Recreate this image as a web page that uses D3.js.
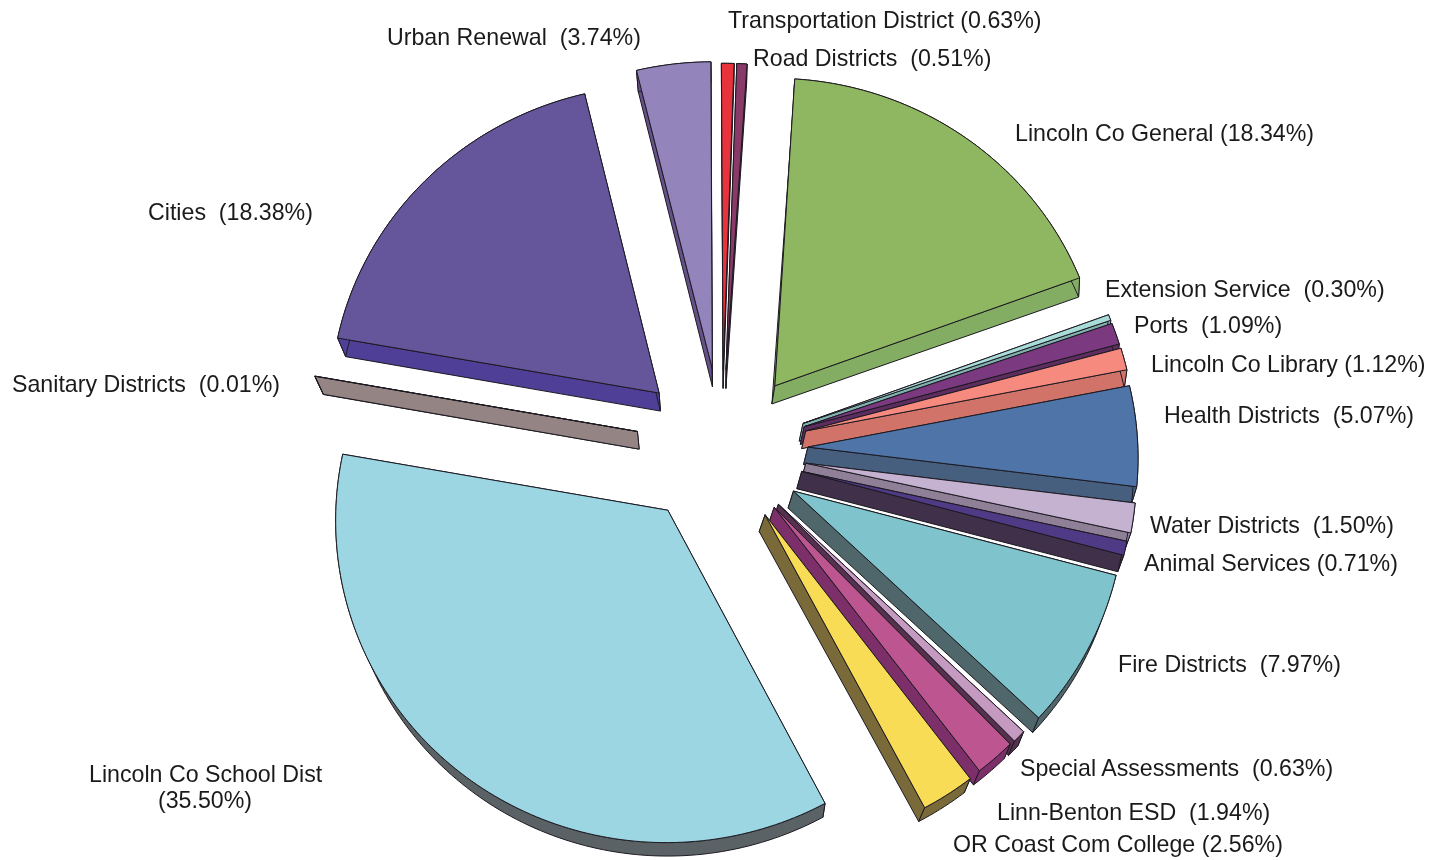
<!DOCTYPE html>
<html><head><meta charset="utf-8">
<script src="https://cdn.jsdelivr.net/npm/d3@7/dist/d3.min.js"></script>
<style>html,body{margin:0;padding:0;background:#fff}svg{display:block}text{font-family:"Liberation Sans",Arial,sans-serif;white-space:pre;fill:#1a1a1a}</style>
</head><body><svg id="c" width="1434" height="860"></svg>
<script>
// Data, clockwise from the top of the pie
const categories = ["Lincoln Co General","Extension Service","Ports","Lincoln Co Library","Health Districts","Water Districts","Animal Services","Fire Districts","Special Assessments","Linn-Benton ESD","OR Coast Com College","Lincoln Co School Dist","Sanitary Districts","Cities","Urban Renewal","Transportation District","Road Districts"];
const shares = [18.34,0.30,1.09,1.12,5.07,1.50,0.71,7.97,0.63,1.94,2.56,35.50,0.01,18.38,3.74,0.63,0.51];
const labels = ["Lincoln Co General (18.34%)","Extension Service  (0.30%)","Ports  (1.09%)","Lincoln Co Library (1.12%)","Health Districts  (5.07%)","Water Districts  (1.50%)","Animal Services (0.71%)","Fire Districts  (7.97%)","Special Assessments  (0.63%)","Linn-Benton ESD  (1.94%)","OR Coast Com College (2.56%)","Lincoln Co School Dist","Sanitary Districts  (0.01%)","Cities  (18.38%)","Urban Renewal  (3.74%)","Transportation District (0.63%)","Road Districts  (0.51%)"];
// Styles
const topColors = ["#8fb660","#a8dcd8","#7b3a80","#f78a7e","#4e74a8","#c4b2d0","#4f3a86","#7fc4cc","#c59ac0","#bd5590","#f8dc55","#9cd6e2","#948484","#65569c","#9484bc","#e8323c","#8a3a68"];
const sideColors = ["#82ad62","#7fb0ae","#5e2d60","#d2736a","#465f7e","#8f8098","#41304a","#4f666a","#55304f","#7d2f6a","#7a6a3a","#5a6266","#948484","#4f3f96","#65508a","#901c28","#5a2040"];
// Layout
const labelX = [1015,1105,1134,1151,1164,1150,1144,1118,1020,997,953,89,12,148,387,728,753];
const labelY = [141,297,333,372,423,533,571,672,776,820,852,782,392,220,45,28,66];
const explodePx = [82,82,82,82,86,86,84,84,82,80,80,88,86,88,80,80,80];
const nudgeX = [4,4,4,4,0,-1,-2,-2,-2,0,0,-2,0,1,0,0,0];
const nudgeY = [4,5,5,4,5,4,7,6,3,3,4,-4,1,6,0,2,2];
const cx=722, cy=445, rx=330, ry=319.4, persp=0.0275, rot=3.8*Math.PI/180;
const vanish=[722,2160], kx=1/48, ky=1/98;

const svg=d3.select("#c").append("g").style("filter","blur(0.4px)");
const x=d3.scaleLinear().domain([-1,1]).range([cx-rx,cx+rx]);
const y=d3.scaleLinear().domain([-1,1]).range([cy-ry,cy+ry]);
const arcs=d3.pie().sort(null).startAngle(rot).endAngle(rot+2*Math.PI)(shares);
const line=d3.line();
const rightLean=d3.scaleLinear().domain([300,520]).range([-1,-6]).clamp(true);
const floorFor=right=>p=>[p[0]+(right?rightLean(p[1]):(vanish[0]-p[0])*kx),p[1]+(vanish[1]-p[1])*ky];

const slices=arcs.map((a,i)=>{
  const mid=(a.startAngle+a.endAngle)/2, e=explodePx[i]/rx;
  const ox=Math.sin(mid)*e, oy=-Math.cos(mid)*e;
  const pt=(r,t)=>{
    const u=ox+r*Math.sin(t), v=oy-r*Math.cos(t), s=1/(1-persp*v);
    return [x(u*s)+nudgeX[i],y(v*s)+nudgeY[i]];
  };
  const n=Math.max(2,Math.ceil((a.endAngle-a.startAngle)/0.02));
  const rim=d3.range(n+1).map(j=>pt(1,a.startAngle+(a.endAngle-a.startAngle)*j/n));
  return {i,apex:pt(0,0),rim,order:pt(0.5,mid)[1],right:mid<Math.PI};
}).sort((p,q)=>p.order-q.order);

slices.forEach(s=>{
  const g=svg.append("g"), floorOf=floorFor(s.right);
  const wall=pts=>g.append("path")
    .attr("d",line(pts.concat(pts.map(floorOf).reverse()))+"Z")
    .attr("fill",sideColors[s.i]).attr("stroke","#1d1a22").attr("stroke-width",1).attr("stroke-linejoin","round");
  wall([s.apex,s.rim[0]]);
  wall([s.apex,s.rim[s.rim.length-1]]);
  wall(s.rim);
  g.append("path").attr("d",line([s.apex,...s.rim])+"Z")
    .attr("fill",topColors[s.i]).attr("stroke","#1d1a22").attr("stroke-width",1).attr("stroke-linejoin","round");
});

svg.selectAll("text.l").data(labels).join("text").attr("class","l")
  .attr("x",(d,i)=>labelX[i]).attr("y",(d,i)=>labelY[i]).attr("font-size",23.2).text(d=>d);
svg.append("text").attr("x",205).attr("y",808).attr("font-size",23.2).attr("text-anchor","middle").text("(35.50%)");
</script></body></html>
